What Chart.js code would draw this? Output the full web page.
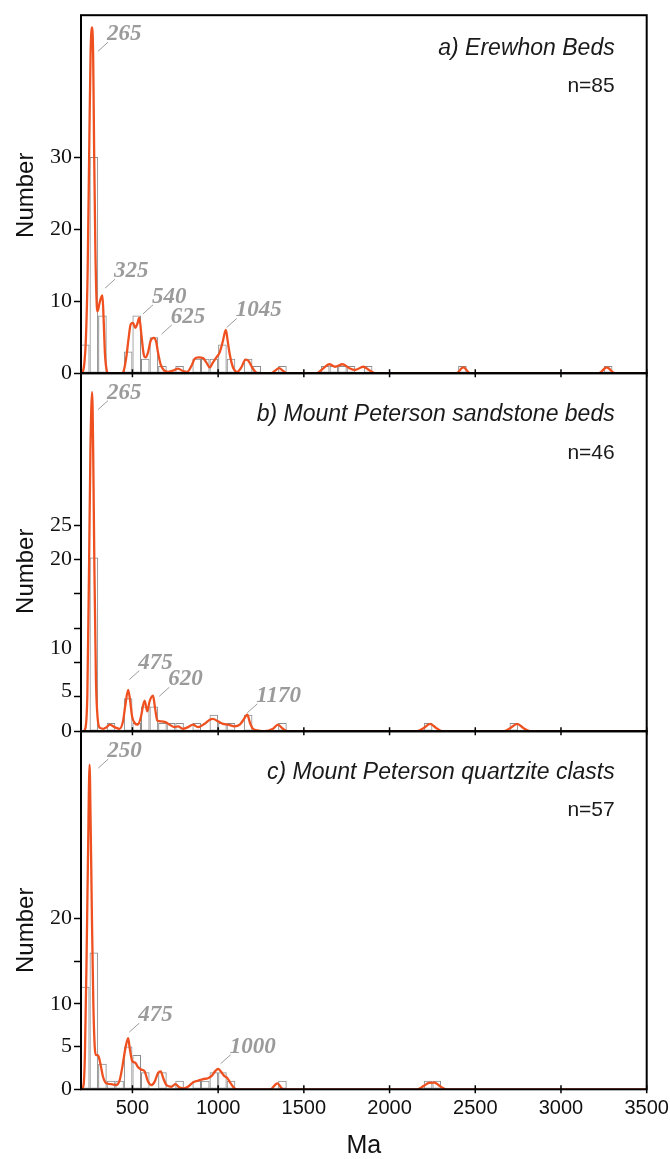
<!DOCTYPE html>
<html>
<head>
<meta charset="utf-8">
<title>Detrital zircon ages</title>
<script src="https://cdn.jsdelivr.net/npm/chart.js@4.4.1/dist/chart.umd.min.js"></script>
<style>
  html, body { margin: 0; padding: 0; background: #fff; }
  #wrap { width: 670px; height: 1159px; }
</style>
</head>
<body>
<div id="wrap"><canvas id="ages" width="670" height="1159"></canvas></div>
<script>
// Histogram bins are 50 Ma wide, listed by their lower edge
const binWidth = 50;
const xTickValues = [500, 1000, 1500, 2000, 2500, 3000, 3500];

// a) Erewhon Beds
const binsA   = [200, 250, 300, 450, 500, 550, 600, 650, 750, 850, 900, 950, 1000, 1050, 1150, 1200, 1350, 1600, 1650, 1700, 1750, 1850, 2400, 3250];
const countsA = [4, 30, 8, 3, 8, 2, 5, 1, 1, 2, 2, 2, 4, 2, 2, 1, 1, 1, 1, 1, 1, 1, 1, 1];
const ageA  = [200, 212, 220, 229, 239, 249, 256, 265, 271, 277, 284, 291, 297, 307, 317, 325, 332, 340, 350, 360,
               440, 450, 464, 478, 490, 503, 517, 529, 540, 552, 566, 577, 591, 606, 625, 638, 649, 665, 684, 708,
               737, 766, 795, 820, 844, 863, 886, 912, 931, 951, 970, 990, 1009, 1026, 1045, 1055, 1068, 1087, 1112, 1135,
               1160, 1178, 1198, 1217, 1240, 1310, 1330, 1355, 1380, 1400, 1575, 1610, 1649, 1682, 1726, 1769, 1798, 1847, 1880, 1915,
               2390, 2430, 2470, 3220, 3267, 3315, 3500];
const densA = [0, 0.3, 1.5, 5, 14.5, 33, 44.5, 48, 44, 30, 17, 10, 8.6, 9.6, 10.5, 10.8, 7.5, 2.6, 0.4, 0,
               0, 0.4, 2.2, 4.9, 6.8, 7.0, 6.3, 6.9, 7.7, 5.4, 2.6, 2.2, 2.9, 4.5, 4.9, 4.4, 2.9, 1.2, 0.4, 0.2,
               0.35, 0.65, 0.3, 0.2, 1.0, 2.0, 2.2, 2.1, 1.5, 0.8, 1.5, 2.2, 2.9, 4.3, 6.0, 4.6, 2.6, 0.8, 0.2, 0.8,
               1.9, 1.7, 0.8, 0.2, 0, 0, 0.3, 0.7, 0.3, 0, 0, 0.6, 1.25, 0.9, 1.25, 0.65, 0.45, 0.9, 0.45, 0,
               0, 0.8, 0, 0, 0.8, 0, 0];
const peaksA = [265, 325, 540, 625, 1045];

// b) Mount Peterson sandstone beds
const binsB   = [250, 350, 450, 500, 550, 600, 650, 700, 750, 850, 950, 1000, 1050, 1150, 1350, 2200, 2700];
const countsB = [21, 1, 4, 1, 3, 3, 1, 1, 1, 1, 2, 1, 1, 2, 1, 1, 1];
const ageB  = [215, 223, 237, 247, 255, 265, 271, 278, 287, 297, 311, 330, 350, 368, 396, 425, 445, 459, 475, 486,
               498, 513, 532, 548, 571, 587, 600, 620, 632, 645, 669, 692, 717, 746, 766, 795, 824, 853, 882, 921,
               951, 970, 999, 1028, 1058, 1096, 1126, 1148, 1170, 1186, 1203, 1233, 1271, 1320, 1349, 1378, 1407,
               2160, 2200, 2236, 2272, 2310, 2665, 2705, 2745, 2780, 2820, 3500];
const densB = [0, 0.2, 4.4, 20, 34, 41, 34, 20, 6.4, 1.6, 0.4, 0.3, 0.5, 0.8, 0.5, 0.3, 1.2, 3.2, 5.0, 3.8,
               1.8, 1.0, 0.8, 1.6, 3.7, 2.4, 3.6, 4.3, 2.8, 1.3, 1.2, 1.1, 0.8, 0.5, 0.6, 0.3, 0.5, 0.8, 0.5, 0.9,
               1.4, 1.5, 1.2, 0.9, 0.8, 0.6, 0.8, 1.4, 2.0, 1.0, 0.3, 0.1, 0, 0.3, 0.8, 0.3, 0,
               0, 0.4, 0.9, 0.4, 0, 0, 0.4, 0.9, 0.4, 0, 0];
const peaksB = [265, 475, 620, 1170];

// c) Mount Peterson quartzite clasts
const binsC   = [200, 250, 300, 350, 400, 450, 500, 550, 650, 750, 850, 900, 950, 1000, 1050, 1350, 2200, 2250];
const countsC = [12, 16, 3, 1, 1, 5, 4, 2, 2, 1, 1, 1, 2, 2, 1, 1, 1, 1];
const ageC  = [205, 215, 223, 233, 241, 250, 256, 264, 272, 280, 287, 298, 305, 315, 328, 348, 377, 406, 426, 441,
               459, 475, 485, 499, 517, 532, 552, 571, 591, 610, 630, 649, 665, 680, 698, 727, 750, 776, 801, 824,
               853, 882, 912, 941, 964, 982, 1000, 1015, 1034, 1054, 1073, 1096, 1116, 1305, 1345, 1380,
               2160, 2200, 2230, 2262, 2292, 2332, 3500];
const densC = [0, 0.5, 4.2, 16, 27.5, 38, 31.4, 19.8, 10, 5, 4.0, 4.0, 3.7, 2.8, 1.5, 0.7, 0.6, 0.5, 1.1, 2.6,
               4.8, 6.0, 4.7, 3.3, 3.1, 2.6, 2.3, 2.1, 0.9, 0.5, 0.9, 1.9, 2.1, 1.3, 0.5, 0.3, 0.6, 0.2, 0.1, 0.3,
               0.8, 1.0, 1.2, 1.3, 1.6, 2.1, 2.4, 2.1, 1.6, 1.3, 0.7, 0.1, 0, 0, 0.7, 0,
               0, 0.4, 0.75, 0.78, 0.4, 0, 0];
const peaksC = [250, 475, 1000];

// y axis tick marks and labels for each panel
const yMarksA = [0, 10, 20, 30];
const yLabelAtA = [0, 10, 20, 30];
const yLabelsA = ['0', '10', '20', '30'];
const yMarksB = [0, 4.16, 8.31, 12.47, 16.63, 20.78, 24.94];
const yLabelAtB = [0, 4.9, 10, 20.78, 24.94];
const yLabelsB = ['0', '5', '10', '20', '25'];
const yMarksC = [0, 5, 10, 15, 20];
const yLabelAtC = [0, 5, 10, 20];
const yLabelsC = ['0', '5', '10', '20'];

// where each peak tag's leader line starts (age, count on that panel's axis)
const tagsA = [[299, 44.7], [340, 11.8], [562, 8.25], [671, 5.45], [1050, 6.35]];
const tagsB = [[299, 38.9], [482, 6.25], [657, 4.24], [1170, 2.23]];
const tagsC = [[301, 37.6], [482, 6.7], [1015, 3.0]];

const SANS = "'Liberation Sans', Arial, sans-serif";
const SERIF = "'Liberation Serif', 'Times New Roman', serif";
const CURVE = '#ef5020';
const BAR_EDGE = '#8c8c8c';
const TAG_GREY = '#9b9b9b';

const panels = [
    { axis: 'ya', title: 'a) Erewhon Beds', counts: countsA, peaks: peaksA, tags: tagsA, titleDy: 33, nDy: 71, numberShift: 1 },
    { axis: 'yb', title: 'b) Mount Peterson sandstone beds', counts: countsB, peaks: peaksB, tags: tagsB, titleDy: 41, nDy: 80, numberShift: 19 },
    { axis: 'yc', title: 'c) Mount Peterson quartzite clasts', counts: countsC, peaks: peaksC, tags: tagsC, titleDy: 41, nDy: 79, numberShift: 20 }
];

function barSet(bins, counts, axis) {
    return {
        type: 'bar',
        yAxisID: axis,
        data: bins.map((b, i) => ({ x: b + binWidth / 2, y: counts[i] })),
        backgroundColor: 'rgba(0,0,0,0)',
        borderColor: BAR_EDGE,
        borderWidth: 1,
        borderSkipped: false,
        inflateAmount: 0,
        barPercentage: 1,
        categoryPercentage: 1,
        grouped: false,
        order: 2
    };
}

function curveSet(ages, dens, axis) {
    return {
        type: 'line',
        yAxisID: axis,
        data: ages.map((a, i) => ({ x: a, y: dens[i] })),
        borderColor: CURVE,
        borderWidth: 2.3,
        pointRadius: 0,
        fill: false,
        cubicInterpolationMode: 'monotone',
        order: 1
    };
}

function yAxis(max, marks, labelAt, labels, weight) {
    return {
        type: 'linear',
        position: 'left',
        stack: 'panels',
        stackWeight: 1,
        weight: weight,
        min: 0,
        max: max,
        border: { display: false },
        grid: {
            drawOnChartArea: false,
            drawTicks: true,
            tickLength: 7,
            tickWidth: 1.5,
            tickColor: c => (c.tick && marks.includes(c.tick.value)) ? '#000' : 'rgba(0,0,0,0)'
        },
        ticks: {
            autoSkip: false,
            padding: 2,
            color: '#111',
            font: { family: SERIF, size: 22 },
            callback: v => {
                const i = labelAt.indexOf(v);
                return i < 0 ? '' : labels[i];
            }
        },
        afterBuildTicks: s => {
            const vals = [...new Set(marks.concat(labelAt))].sort((p, q) => p - q);
            s.ticks = vals.map(v => ({ value: v }));
        },
        afterFit: s => { s.width = 81; }
    };
}

// frames, crossing ticks, panel titles, n= counts, peak tags and the "Number" titles
const panelDecor = {
    id: 'panelDecor',
    afterDatasetsDraw(chart) {
        const { ctx, chartArea, scales } = chart;
        const xs = scales.x;
        ctx.save();
        panels.forEach(p => {
            const ys = scales[p.axis];

            ctx.strokeStyle = '#000';
            ctx.lineWidth = 2;
            ctx.strokeRect(chartArea.left, ys.top, chartArea.right - chartArea.left, ys.bottom - ys.top);

            ctx.lineWidth = 1.5;
            ctx.beginPath();
            xTickValues.forEach(v => {
                const px = xs.getPixelForValue(v);
                ctx.moveTo(px, ys.bottom - 4);
                ctx.lineTo(px, ys.bottom + 4);
            });
            ctx.stroke();

            const rightX = chartArea.right - 32;
            ctx.fillStyle = '#1a1a1a';
            ctx.textAlign = 'right';
            ctx.textBaseline = 'middle';
            ctx.font = 'italic 23px ' + SANS;
            ctx.fillText(p.title, rightX, ys.top + p.titleDy);
            ctx.font = '21px ' + SANS;
            const n = p.counts.reduce((s, c) => s + c, 0);
            ctx.fillText('n=' + n, rightX, ys.top + p.nDy);

            ctx.strokeStyle = TAG_GREY;
            ctx.fillStyle = TAG_GREY;
            ctx.lineWidth = 1;
            ctx.textAlign = 'left';
            ctx.font = 'italic bold 23px ' + SERIF;
            p.peaks.forEach((age, i) => {
                const sx = xs.getPixelForValue(p.tags[i][0]);
                const sy = ys.getPixelForValue(p.tags[i][1]);
                ctx.beginPath();
                ctx.moveTo(sx, sy);
                ctx.lineTo(sx + 10, sy - 9);
                ctx.stroke();
                ctx.fillText(String(age), sx + 9, sy - 17);
            });

            ctx.save();
            ctx.fillStyle = '#111';
            ctx.font = '24px ' + SANS;
            ctx.textAlign = 'center';
            ctx.translate(26, (ys.top + ys.bottom) / 2 + p.numberShift);
            ctx.rotate(-Math.PI / 2);
            ctx.fillText('Number', 0, 0);
            ctx.restore();
        });
        ctx.restore();
    }
};

new Chart(document.getElementById('ages'), {
    type: 'bar',
    data: {
        datasets: [
            barSet(binsA, countsA, 'ya'), curveSet(ageA, densA, 'ya'),
            barSet(binsB, countsB, 'yb'), curveSet(ageB, densB, 'yb'),
            barSet(binsC, countsC, 'yc'), curveSet(ageC, densC, 'yc')
        ]
    },
    options: {
        responsive: false,
        animation: false,
        layout: { padding: { top: 12, right: 23.3, bottom: 0, left: 0 } },
        plugins: { legend: { display: false }, tooltip: { enabled: false } },
        scales: {
            x: {
                type: 'linear',
                position: 'bottom',
                min: 200,
                max: 3500,
                offset: false,
                border: { display: false },
                grid: { display: false, drawTicks: false, offset: false },
                ticks: {
                    autoSkip: false,
                    maxRotation: 0,
                    padding: 7,
                    color: '#111',
                    font: { family: SANS, size: 20 },
                    callback: v => String(v)
                },
                afterBuildTicks: s => { s.ticks = xTickValues.map(v => ({ value: v })); },
                title: {
                    display: true,
                    text: 'Ma',
                    color: '#111',
                    font: { family: SANS, size: 25, lineHeight: 1 },
                    padding: { top: 0, bottom: 0 }
                },
                afterFit: s => {
                    s.height = 69.7;
                    // let "3500" hang past the plot edge instead of shrinking the plot
                    s.paddingLeft = 0;
                    s.paddingRight = 0;
                }
            },
            ya: yAxis(49.7, yMarksA, yLabelAtA, yLabelsA, 3),
            yb: yAxis(43.3, yMarksB, yLabelAtB, yLabelsB, 2),
            yc: yAxis(41.9, yMarksC, yLabelAtC, yLabelsC, 1)
        }
    },
    plugins: [panelDecor]
});
</script>
</body>
</html>
